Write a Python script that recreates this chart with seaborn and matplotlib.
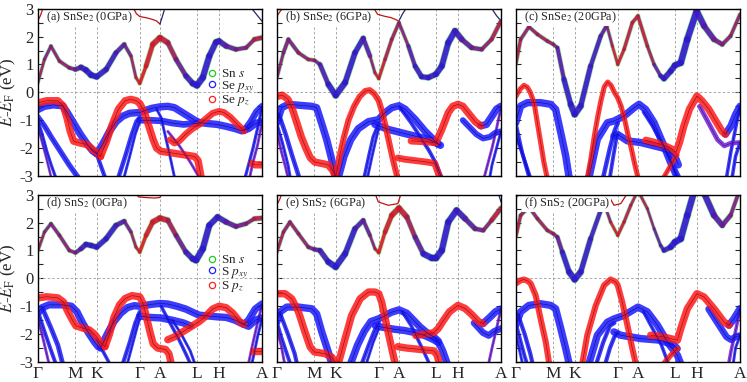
import numpy as np
import pandas as pd
import matplotlib
matplotlib.use("Agg")
import matplotlib.pyplot as plt
import seaborn as sns
from matplotlib.collections import LineCollection
from matplotlib.lines import Line2D

# ---------------- k-path ----------------
KPATH_LABELS = ["Γ", "M", "K", "Γ", "A", "L", "H", "A"]
KPATH_POS = [0, 16.7, 26.3, 45.5, 54.5, 71.1, 80.8, 100]

PANEL_TITLES = ["(a) SnSe$_2$ (0GPa)", "(b) SnSe$_2$ (6GPa)", "(c) SnSe$_2$ (20GPa)",
                "(d) SnS$_2$ (0GPa)", "(e) SnS$_2$ (6GPa)", "(f) SnS$_2$ (20GPa)"]
LEGEND_SE = ["Sn $s$", "Se $p_{xy}$", "Se $p_z$"]
LEGEND_S = ["Sn $s$", "S $p_{xy}$", "S $p_z$"]

# ---------------- panel (a) SnSe2 0GPa ----------------
A_CB = [(0,0.32),(3,1.18),(5.9,1.66),(9.7,1.12),(14.1,0.88),(16.8,0.82),(19.3,0.9),(21.5,0.8),(23.8,0.62),(26.3,0.56),(30.5,0.82),(34.9,1.42),(38.6,1.72),(41.6,1.3),(43.8,0.53),(45.5,0.32),(48.3,0.94),(51.3,1.72),(54.5,1.96),(58,1.78),(61.7,1.18),(66.1,0.59),(69.1,0.32),(71,0.25),(73.6,0.53),(76.5,1.3),(79.5,1.8),(80.8,1.84),(84,1.66),(88.4,1.54),(92.9,1.6),(96.6,1.9),(100,1.96)]
A_CB_PXY = [0.1,0.2,0.3,0.2,0.3,0.4,0.6,0.7,0.7,0.7,0.6,0.5,0.4,0.2,0.1,0.0,0.05,0.1,0.1,0.2,0.4,0.6,0.7,0.8,0.8,0.7,0.7,0.7,0.6,0.4,0.4,0.3,0.1]
A_CB_PZ = [0.2,0.2,0.2,0.3,0.3,0.3,0.2,0.1,0.1,0.1,0.1,0.1,0.2,0.2,0.2,0.2,0.4,0.6,0.7,0.6,0.4,0.2,0.1,0.1,0.1,0.1,0.1,0.1,0.2,0.3,0.3,0.4,0.6]
A_UP1 = [(0,2.56),(1.2,2.75),(2.5,3.05)]
A_UP2 = [(42.5,3.05),(44,2.82),(45.5,2.72),(48.7,2.67),(51,2.62),(53,2.56),(54.5,2.45)]
A_UP3 = [(54.5,2.45),(55.5,2.7),(56.8,3.05)]
A_UP4 = [(95,3.05),(97.5,2.8),(100,2.55)]
A_R1 = [(0,-0.38),(4,-0.3),(9,-0.3),(11.5,-0.5),(13,-0.9),(14.5,-1.4),(16,-1.75),(19,-1.82),(22,-1.87),(24.5,-2.05),(26.3,-2.15),(28,-2.3)]
A_R2 = [(28,-2.3),(30.5,-1.8),(33,-1.2),(36,-0.6),(39,-0.3),(41.5,-0.25),(44,-0.3),(45.5,-0.4),(47.5,-0.7),(49.5,-1.2),(51.5,-1.7),(53,-2.0),(55,-2.12),(58,-2.15),(62,-2.2),(66,-2.25),(70,-2.3),(71.5,-2.45),(73,-3.1)]
A_R3 = [(59,-1.7),(61,-1.82),(63,-1.75),(66,-1.5),(69,-1.3),(72,-1.15),(75,-0.95),(78,-0.75),(80.8,-0.68),(83,-0.72),(86,-0.9),(89,-1.15),(92,-1.38)]
A_R4 = [(95.5,-2.55),(97,-2.6),(100,-2.6)]
A_B1 = [(0,-0.62),(3,-0.5),(7,-0.45),(11,-0.48),(13,-0.7),(16,-1.1),(19,-1.5),(22,-1.85),(24.5,-2.1),(26.3,-2.2)]
A_B2 = [(26.3,-2.2),(29,-1.85),(32,-1.4),(35,-1.05),(38,-0.85),(41,-0.75),(45.5,-0.72),(48,-0.65),(51,-0.57),(54.5,-0.52),(58,-0.5),(61,-0.55),(64,-0.7),(67,-0.85),(70,-1.0),(72,-1.08),(76,-1.12),(80,-1.15),(84,-1.22),(88,-1.3),(91,-1.38),(94,-1.3),(97,-1.12),(100,-1.05)]
A_B3 = [(45.5,-1.0),(50,-1.0),(55,-1.02),(60,-1.1),(65,-1.15),(70,-1.12),(72,-1.1)]
A_B4 = [(92,-1.38),(95,-1.05),(97.5,-0.7),(100,-0.5)]
A_S1 = [(0,-0.87),(3,-1.2),(6,-1.6),(10,-2.1),(14,-2.6),(18,-3.05)]
A_S2 = [(0,-1.0),(2,-1.5),(4,-2.1),(6,-2.6),(8,-3.05)]
A_S3 = [(0,-1.2),(2,-1.8),(4,-2.4),(6,-3.05)]
A_S4 = [(36,-3.05),(39,-2.3),(42,-1.5),(44,-1.05),(45.5,-0.9)]
A_S5 = [(38.5,-3.05),(41,-2.3),(43.5,-1.5),(45.5,-1.05)]
A_S6 = [(53,-0.6),(55,-0.9),(57,-1.6),(59,-2.3),(61,-3.05)]
A_S7 = [(58,-1.4),(63,-1.9),(68,-2.5),(72,-3.05)]
A_S8 = [(100,-0.55),(98,-1.3),(96,-2.0),(94,-2.6),(92.5,-3.05)]
A_S9 = [(100,-1.1),(98,-1.9),(96,-2.5),(94.5,-3.05)]
A_S10 = [(26.3,-2.2),(28,-2.6),(30,-3.05)]

# ---------------- panel (b) SnSe2 6GPa ----------------
B_CB = [(0,0.49),(3,1.42),(5.2,1.9),(9.7,1.42),(14.1,1.18),(16.8,1.15),(19.3,1.0),(23,0.29),(26.3,-0.11),(30.5,0.35),(34.9,1.42),(38.6,1.94),(41.6,1.3),(43.8,0.7),(45.5,0.49),(48.3,1.18),(51.3,1.9),(54.5,2.5),(58.7,1.66),(61.7,0.94),(64.6,0.56),(67.6,0.53),(71,0.65),(73.6,0.94),(76.5,1.78),(79.5,2.2),(82.5,1.9),(86.9,1.6),(91.4,1.54),(95.8,1.9),(100,2.56)]
B_CB_PXY = [0.2,0.3,0.4,0.3,0.2,0.2,0.4,0.6,0.8,0.7,0.6,0.6,0.3,0.1,0.0,0.1,0.2,0.2,0.3,0.5,0.6,0.6,0.7,0.7,0.7,0.8,0.6,0.5,0.4,0.3,0.1]
B_CB_PZ = [0.2,0.3,0.3,0.3,0.3,0.3,0.2,0.1,0.1,0.1,0.1,0.1,0.2,0.2,0.2,0.3,0.3,0.3,0.2,0.1,0.1,0.1,0.1,0.1,0.1,0.1,0.2,0.3,0.3,0.4,0.4]
B_UP1 = [(0,2.72),(1.5,2.9),(3,3.05)]
B_UP2 = [(43,3.05),(45,2.8),(48,2.73),(51,2.68),(54.5,2.56)]
B_UP3 = [(54.5,2.56),(56,2.8),(58,3.05)]
B_UP4 = [(95.5,3.05),(98,2.75),(100,2.56)]
B_R1 = [(0,-0.15),(2.5,-0.1),(5,-0.25),(7,-0.6),(9,-1.1),(11,-1.6),(13,-2.0),(15,-2.35),(17,-2.5),(20,-2.55),(23,-2.6),(25,-2.8),(26.3,-3.05)]
B_R2 = [(26.3,-3.05),(28,-2.3),(30,-1.6),(32,-1.0),(34.5,-0.5),(37,-0.15),(39.5,0.05),(41.5,0.08),(43.5,-0.05),(45.5,-0.3),(47,-0.7),(48.5,-1.2),(50,-1.75),(51.5,-2.3),(53,-2.8),(54,-3.1)]
B_R3 = [(60,-1.74),(65,-1.76),(71,-1.8),(73.6,-1.33),(76.5,-0.73),(78.5,-0.5),(80.8,-0.43),(83,-0.5),(86,-0.8),(88.5,-1.05),(91,-1.2)]
B_R4 = [(54,-2.35),(57,-2.4),(62,-2.45),(67,-2.5),(70.5,-2.55),(72,-2.9),(73,-3.1)]
B_B1 = [(0,-1.09),(2.2,-0.55),(5.2,-0.43),(11.1,-0.47),(15.6,-0.5),(17.8,-0.55),(20,-1.1),(22.3,-1.7),(24.5,-2.4),(26.3,-3.05)]
B_B2 = [(27.5,-3.05),(30,-2.3),(33,-1.7),(36.4,-1.3),(40.9,-1.05),(45.3,-0.98),(48.3,-0.73),(51.3,-0.55),(54.5,-0.48),(57.2,-0.6),(61.7,-0.97),(66.1,-1.39),(70.6,-1.75),(72,-1.85)]
B_B3 = [(43.8,-1.15),(49.8,-1.33),(55.7,-1.45),(61.7,-1.57),(67.6,-1.68),(70.6,-1.8),(73,-1.9)]
B_B4 = [(91,-1.2),(93.5,-1.15),(96,-0.85),(98,-0.6),(100,-0.5)]
B_B5 = [(83,-1.0),(86,-1.25),(89,-1.5),(92,-1.65),(95,-1.6),(97.5,-1.45),(100,-1.4)]
B_S1 = [(0,-1.1),(2.5,-1.8),(5,-2.6),(6,-3.05)]
B_S2 = [(0,-1.4),(2,-2.1),(4,-2.7),(5,-3.05)]
B_S3 = [(1,-0.8),(4,-1.5),(7,-2.3),(10,-3.05)]
B_S4 = [(39,-3.05),(41,-2.3),(43,-1.6),(45.5,-1.1)]
B_S5 = [(40.5,-3.05),(42.5,-2.3),(44.5,-1.6),(45.5,-1.3)]
B_S6 = [(55,-0.55),(60,-1.1),(64,-1.6),(68,-2.1),(71,-2.55),(73.5,-3.05)]
B_S7 = [(100,-0.55),(98,-1.3),(96,-2.0),(94,-2.6),(92.5,-3.05)]
B_S8 = [(100,-1.4),(98,-2.0),(96,-2.6),(95,-3.05)]

# ---------------- panel (c) SnSe2 20GPa ----------------
C_CB = [(0,1.0),(2.2,1.9),(5.9,2.35),(9.7,2.08),(14.1,1.84),(16.8,1.72),(18.6,1.6),(21.5,0.47),(24.5,-0.43),(26.3,-0.79),(29,-0.49),(33.4,0.94),(37.9,2.02),(40.6,2.4),(43.1,1.66),(45.5,1.0),(48.3,1.54),(52,2.5),(54.5,2.74),(58.7,1.66),(61.7,1.0),(64.6,0.59),(66.1,0.49),(69.1,0.76),(71,0.97),(73.6,1.06),(76.5,1.9),(80.7,2.92),(84,2.38),(88.4,1.9),(92.1,1.72),(95.8,2.02),(100,2.8)]
C_CB_PXY = [0.1,0.2,0.3,0.2,0.2,0.2,0.3,0.5,0.7,0.8,0.7,0.5,0.4,0.3,0.1,0.0,0.1,0.1,0.1,0.1,0.2,0.4,0.6,0.7,0.7,0.8,0.8,0.8,0.7,0.6,0.4,0.3,0.2]
C_CB_PZ = [0.3,0.3,0.3,0.3,0.3,0.3,0.2,0.1,0.1,0.1,0.1,0.1,0.1,0.2,0.2,0.2,0.3,0.3,0.3,0.3,0.2,0.1,0.1,0.1,0.1,0.1,0.1,0.1,0.2,0.3,0.4,0.3,0.3]
C_R1 = [(0,-0.15),(2,0.12),(3.7,0.25),(5.2,0.18),(6.5,0.0),(8.2,-0.37),(10.4,-1.45),(12.6,-2.52),(14,-3.05)]
C_R2 = [(32,-3.05),(33.5,-2.4),(35,-1.6),(36.5,-0.9),(38,-0.3),(39.5,0.2),(41,0.37),(42.5,0.25),(44,0.0),(45.5,-0.2),(47,-0.5),(48.5,-0.95),(50,-1.5),(51.5,-2.0),(53,-2.55),(54.5,-3.05)]
C_R3 = [(58,-1.72),(62,-1.8),(66,-1.9),(70,-2.05),(71.5,-2.15),(73,-1.8),(75,-1.2),(77.5,-0.6),(80.8,-0.13),(83,-0.3),(86,-0.6),(89,-1.0),(92,-1.4),(93.5,-1.5)]
C_R4 = [(66,-3.05),(68.5,-2.7),(71,-2.35),(72,-2.25)]
C_B1 = [(0,-1.09),(2.2,-0.49),(5.2,-0.37),(11.1,-0.37),(15.6,-0.43),(17.8,-0.61),(20.1,-1.45),(22.3,-2.28),(23.8,-3.05)]
C_B2 = [(32.7,-3.05),(36.4,-1.68),(40.9,-1.09),(43.8,-1.03),(48.3,-0.85),(52.8,-0.55),(55,-0.43),(57.9,-0.61),(61.7,-1.09),(66.1,-1.92),(69.1,-2.52),(72.1,-3.05)]
C_B3 = [(43.8,-1.57),(45.3,-1.5),(49.8,-1.74),(55.7,-1.8),(61.7,-1.92),(67.6,-2.04),(71,-2.3),(72.5,-2.6)]
C_B4 = [(93.5,-1.5),(96,-1.2),(98,-0.8),(100,-0.5)]
C_B5 = [(82,-0.5),(86,-1.1),(90,-1.7),(93,-1.92),(96,-1.82),(100,-1.8)]
C_S1 = [(0,-1.1),(3,-2.2),(6,-3.05)]
C_S2 = [(0,-1.55),(3,-2.2),(6.5,-3.05)]
C_S3 = [(42,-3.05),(43.5,-2.3),(45,-1.6),(45.5,-1.5)]
C_S4 = [(39,-3.05),(42,-2.0),(44,-1.4),(45.5,-1.1)]
C_S5 = [(57,-0.7),(61,-1.2),(65,-1.8),(69,-2.4),(72,-3.05)]
C_S6 = [(100,-0.5),(98,-1.3),(96,-2.1),(94,-3.05)]
C_S7 = [(100,-1.8),(98,-2.3),(96.5,-3.05)]

# ---------------- panel (d) SnS2 0GPa ----------------
D_CB = [(0,0.97),(3,1.66),(5.9,1.96),(9.7,1.54),(14.1,1.0),(16.8,0.92),(19.3,1.06),(21.5,1.22),(23.8,1.18),(26.3,1.12),(30.5,1.42),(34.9,1.9),(38.6,2.05),(41.6,1.66),(43.8,1.12),(45.5,0.94),(48.3,1.54),(51.3,2.02),(54.5,2.16),(58,2.08),(61.7,1.54),(66.1,0.94),(69.1,0.7),(70.6,0.65),(73.6,1.06),(76.5,1.9),(80.2,2.2),(84,2.02),(88.4,1.86),(92.9,1.96),(96.6,2.14),(100,2.16)]
D_CB_PXY = [0.1,0.2,0.3,0.3,0.3,0.3,0.5,0.6,0.6,0.6,0.6,0.6,0.4,0.2,0.1,0.0,0.05,0.1,0.1,0.2,0.4,0.6,0.7,0.8,0.8,0.7,0.7,0.6,0.5,0.4,0.3,0.1]
D_CB_PZ = [0.2,0.2,0.2,0.3,0.3,0.3,0.2,0.1,0.1,0.1,0.1,0.1,0.2,0.2,0.2,0.2,0.4,0.6,0.7,0.6,0.4,0.2,0.1,0.1,0.1,0.1,0.1,0.2,0.3,0.3,0.4,0.6]
D_UP1 = [(43.5,3.05),(45,2.92),(48,2.9),(52,2.88),(54.5,2.9),(55.5,3.05)]
D_R1 = [(0,-0.7),(4,-0.66),(9,-0.7),(11.5,-0.85),(13.5,-1.2),(15.5,-1.5),(17,-1.7),(20,-1.78),(23,-1.85),(25,-1.98),(26.3,-2.1),(28,-2.3),(30,-2.45)]
D_R2 = [(30,-2.45),(32,-2.0),(34,-1.4),(36.5,-0.95),(39,-0.72),(42,-0.62),(45.5,-0.66),(47,-0.9),(48.5,-1.4),(50,-1.9),(51.5,-2.35),(53.5,-2.5),(57,-2.55),(58.5,-2.7),(59.5,-3.05)]
D_R3 = [(58,-2.2),(61,-2.1),(65,-1.9),(69,-1.7),(72,-1.55),(75,-1.35),(78,-1.1),(80.8,-1.0),(84,-1.05),(87,-1.25),(90,-1.55),(92,-1.65)]
D_R4 = [(96,-2.62),(100,-2.62)]
D_B1 = [(0,-1.25),(2,-1.05),(5,-0.95),(11,-0.95),(15,-1.0),(17.5,-1.2),(20,-1.6),(23,-2.0),(25.5,-2.3),(27,-2.45)]
D_B2 = [(28,-2.5),(31,-2.0),(34,-1.55),(37,-1.25),(40,-1.05),(43,-0.98),(45.5,-1.0),(48,-0.97),(51,-0.93),(54.5,-0.9),(58,-0.92),(62,-1.0),(66,-1.1),(70,-1.25),(72,-1.32),(76,-1.35),(80,-1.38),(84,-1.4),(88,-1.5),(91,-1.62),(94,-1.72),(97,-1.5),(100,-1.42)]
D_B3 = [(45.5,-1.35),(50,-1.4),(55,-1.42),(60,-1.5),(65,-1.6),(68,-1.7)]
D_B4 = [(92,-1.65),(94,-1.5),(97,-1.1),(100,-0.92)]
D_S1 = [(0,-1.15),(3,-1.9),(6,-2.6),(8,-3.05)]
D_S2 = [(0,-1.4),(2.5,-2.2),(5,-3.05)]
D_S3 = [(2.2,-1.09),(6,-1.8),(9,-2.4),(11.1,-3.05)]
D_S4 = [(38,-3.05),(41,-2.3),(43.5,-1.6),(45.5,-1.2)]
D_S5 = [(40,-3.05),(42.5,-2.3),(44.5,-1.7),(45.5,-1.45)]
D_S6 = [(55,-1.0),(59,-1.6),(63,-2.2),(66,-2.7),(68,-3.05)]
D_S7 = [(60,-1.5),(64,-2.0),(68,-2.6),(70,-3.05)]
D_S8 = [(100,-0.95),(98,-1.6),(96,-2.3),(94,-3.05)]
D_S9 = [(100,-1.45),(98,-2.1),(96.5,-2.7),(95.5,-3.05)]
D_S10 = [(26.3,-2.2),(29,-2.6),(32,-3.05)]

# ---------------- panel (e) SnS2 6GPa ----------------
E_CB = [(0,0.92),(3,1.66),(5.9,2.02),(9.7,1.6),(14.1,1.12),(16.8,1.04),(19.3,1.0),(23,0.59),(26.3,0.41),(30.5,0.88),(34.9,1.78),(38.6,2.08),(41.6,1.54),(43.8,1.06),(45.5,0.92),(48.3,1.66),(51.3,2.26),(54.5,2.52),(58,2.2),(61.7,1.48),(65.4,0.88),(69.1,0.73),(71,0.73),(73.6,1.0),(76.5,2.02),(80.2,2.44),(84,2.14),(88.4,1.78),(92.1,1.72),(95.8,2.08),(100,2.52)]
E_CB_PXY = [0.1,0.2,0.3,0.2,0.3,0.4,0.5,0.7,0.8,0.7,0.6,0.4,0.3,0.1,0.0,0.05,0.1,0.1,0.2,0.4,0.7,0.8,0.8,0.8,0.7,0.8,0.6,0.5,0.4,0.3,0.1]
E_CB_PZ = [0.2,0.3,0.3,0.3,0.3,0.3,0.2,0.1,0.1,0.1,0.1,0.2,0.2,0.2,0.2,0.4,0.6,0.7,0.6,0.4,0.1,0.1,0.1,0.1,0.1,0.1,0.2,0.3,0.3,0.4,0.6]
E_UP1 = [(0,2.62),(1.5,2.86),(2.2,3.05)]
E_UP2 = [(43.8,3.05),(45.3,2.74),(49.8,2.62),(54,2.68),(55.5,3.05)]
E_UP3 = [(98.8,3.05),(100,2.74)]
E_R1 = [(0,-0.55),(3.7,-0.55),(6.7,-0.73),(9.7,-1.2),(12.6,-1.92),(14.9,-2.46),(16.8,-2.64),(21.5,-2.7),(24.5,-2.82),(26.3,-3.05)]
E_R2 = [(27.5,-3.05),(30.5,-2.16),(33.4,-1.33),(37.2,-0.73),(40.9,-0.49),(43.8,-0.49),(45.5,-0.55),(46.8,-0.85),(49,-1.68),(51.3,-2.52),(52.8,-3.05)]
E_R3 = [(54,-2.45),(58,-2.5),(64,-2.55),(70,-2.6),(71.5,-2.75),(72.5,-3.05)]
E_R4 = [(62,-2.05),(66,-2.0),(70,-1.95),(72,-1.8),(74,-1.55),(77,-1.2),(80.8,-0.97),(84,-1.08),(87,-1.3),(90,-1.55),(92,-1.62)]
E_B1 = [(0,-1.57),(1.5,-1.2),(4.5,-1.03),(9.7,-1.03),(15.6,-1.09),(17.8,-1.27),(20.1,-1.92),(23,-2.64),(24.5,-3.05)]
E_B2 = [(33,-3.05),(36,-2.4),(39,-1.9),(42,-1.55),(45.5,-1.45),(48,-1.35),(51,-1.22),(54.5,-1.13),(58,-1.25),(61,-1.5),(64,-1.75),(67,-1.95),(70,-2.1),(72,-2.25),(74,-2.6),(76,-3.05)]
E_B3 = [(44,-1.7),(47,-1.75),(52,-1.82),(57,-1.87),(62,-1.95),(66,-2.05),(70,-2.2),(72,-2.3)]
E_B4 = [(92,-1.62),(95,-1.4),(97.5,-1.2),(100,-1.1)]
E_B5 = [(88,-1.6),(92,-1.95),(94.5,-2.05),(97,-1.9),(100,-1.8)]
E_S1 = [(0,-1.55),(2,-2.1),(4.5,-2.7),(6,-3.05)]
E_S2 = [(0,-1.8),(2,-2.4),(3.5,-3.05)]
E_S3 = [(1.5,-1.25),(5,-2.0),(8,-2.7),(9,-3.05)]
E_S4 = [(38,-3.05),(41,-2.4),(43.5,-1.9),(45.5,-1.6)]
E_S5 = [(40,-3.05),(43,-2.3),(45.5,-1.8)]
E_S6 = [(56,-1.2),(60,-1.7),(63,-2.2),(66,-2.7),(68,-3.05)]
E_S7 = [(100,-1.1),(98,-1.8),(96,-2.5),(94.5,-3.05)]

# ---------------- panel (f) SnS2 20GPa ----------------
F_CB = [(0,1.48),(2.2,2.26),(5.9,2.56),(9.7,2.14),(14.1,1.72),(16.8,1.6),(18.6,1.48),(20.8,0.94),(23.8,0.23),(26.3,-0.04),(29,0.23),(33.4,1.42),(37.9,2.44),(39.7,2.62),(42.3,2.02),(45.5,1.54),(48.3,2.02),(51.3,2.62),(54.5,3.15),(58.7,2.5),(61.7,1.78),(64.6,1.18),(66.1,1.0),(69.1,1.12),(71,1.3),(73.6,1.42),(76.5,2.26),(79.5,3.1),(80.8,3.3),(84,3.05),(88.4,2.26),(92.1,1.9),(95.8,2.26),(100,3.2)]
F_CB_PXY = [0.1,0.2,0.3,0.2,0.2,0.2,0.3,0.5,0.7,0.8,0.7,0.5,0.4,0.3,0.1,0.0,0.1,0.1,0.1,0.1,0.2,0.2,0.4,0.7,0.8,0.8,0.8,0.8,0.8,0.8,0.7,0.6,0.4,0.3]
F_CB_PZ = [0.3,0.3,0.3,0.3,0.3,0.3,0.3,0.1,0.1,0.1,0.1,0.1,0.1,0.2,0.2,0.2,0.3,0.2,0.2,0.2,0.1,0.1,0.1,0.1,0.1,0.1,0.1,0.1,0.1,0.1,0.2,0.3,0.3,0.3]
F_UP1 = [(0,2.86),(1.5,3.05)]
F_UP2 = [(40.9,3.05),(43.8,2.62),(46.8,2.68),(49.8,3.05)]
F_R1 = [(0,-0.19),(2,-0.08),(3.7,-0.04),(5.5,-0.1),(6.7,-0.19),(8.9,-0.61),(11.1,-1.45),(13.4,-2.28),(14.9,-3.05)]
F_R2 = [(29.7,-3.05),(31.9,-2.04),(35.7,-0.97),(39.4,-0.25),(42.3,-0.04),(44.6,-0.13),(45.5,-0.25),(47.5,-0.85),(49.8,-1.68),(52,-2.52),(53.5,-3.05)]
F_R3 = [(60.2,-2.04),(66,-2.1),(70,-2.18),(72.1,-2.22),(73.6,-1.8),(76.5,-1.09),(80.8,-0.55),(84,-0.67),(88.4,-1.09),(92.9,-1.57),(95.1,-1.68)]
F_R4 = [(66.1,-3.05),(69.1,-2.76),(72.1,-2.52)]
F_B1 = [(0,-1.68),(2.2,-1.2),(5.9,-0.97),(11.1,-0.91),(15.6,-0.97),(17.8,-1.09),(20.1,-1.8),(22.3,-2.52),(23.8,-3.05)]
F_B2 = [(32.7,-3.05),(36.4,-2.04),(40.9,-1.57),(44,-1.45),(48.3,-1.33),(54.5,-1.03),(58.7,-1.2),(63.2,-1.68),(67.6,-2.28),(72.1,-2.76),(73.5,-3.05)]
F_B3 = [(43.8,-1.92),(46.8,-2.04),(55.7,-2.16),(64.6,-2.22),(70.6,-2.4),(72,-2.52)]
F_B4 = [(95.1,-1.68),(97.3,-1.45),(100,-1.09)]
F_B5 = [(86,-1.1),(90,-1.6),(94,-2.1),(96,-2.2),(98,-2.1),(100,-2.05)]
F_S1 = [(0,-1.6),(2,-2.2),(4,-2.8),(5,-3.05)]
F_S2 = [(0,-2.0),(1.5,-2.5),(3,-3.05)]
F_S3 = [(1,-1.3),(4,-2.0),(6.5,-2.7),(7.5,-3.05)]
F_S4 = [(40,-3.05),(42,-2.5),(44,-2.1),(45.5,-1.95)]
F_S5 = [(36,-3.05),(39,-2.3),(42,-1.7),(44,-1.6)]
F_S6 = [(57,-1.2),(61,-1.8),(65,-2.4),(68,-3.05)]
F_S7 = [(100,-1.1),(98,-1.9),(96,-2.6),(95,-3.05)]
F_S8 = [(100,-2.05),(98,-2.5),(97,-3.05)]

# ---------------- styling ----------------
RED = np.array([1.0, 0.1, 0.1])
BLUE = np.array([0.1, 0.1, 1.0])
GREEN = np.array([0.1, 0.85, 0.1])
NAVY = np.array([0.15, 0.15, 0.45])
DARKRED = np.array([0.75, 0.08, 0.08])
ORB = {"pz": RED, "pxy": BLUE, "mix": np.array([0.45, 0.12, 0.85]), "navy": NAVY, "dred": DARKRED}

PANELS = [
    dict(cb=(A_CB, A_CB_PXY, A_CB_PZ),
         up=[(A_UP1, "dred"), (A_UP2, "dred"), (A_UP3, "navy"), (A_UP4, "navy")],
         bands=[(A_S3, "mix", 0.25), (A_S2, "pxy", 0.35), (A_S5, "pxy", 0.3), (A_S6, "pxy", 0.3),
                (A_S7, "mix", 0.3), (A_S8, "pxy", 0.35), (A_S9, "mix", 0.3), (A_S10, "pxy", 0.5),
                (A_S1, "pxy", 0.7), (A_S4, "pxy", 0.55),
                (A_B3, "pxy", 0.9), (A_B1, "pxy", 1.0), (A_B2, "pxy", 1.0), (A_B4, "pxy", 0.9),
                (A_R4, "pz", 1.0), (A_R3, "pz", 0.9), (A_R1, "pz", 1.0), (A_R2, "pz", 1.0)]),
    dict(cb=(B_CB, B_CB_PXY, B_CB_PZ),
         up=[(B_UP1, "dred"), (B_UP2, "dred"), (B_UP3, "navy"), (B_UP4, "navy")],
         bands=[(B_S1, "pxy", 0.35), (B_S2, "mix", 0.3), (B_S3, "pxy", 0.55), (B_S4, "pxy", 0.4),
                (B_S5, "pxy", 0.3), (B_S6, "pxy", 0.45), (B_S7, "mix", 0.3), (B_S8, "pxy", 0.3),
                (B_B3, "pxy", 1.0), (B_B1, "pxy", 1.0), (B_B2, "pxy", 1.0), (B_B5, "pxy", 0.8),
                (B_B4, "pxy", 1.0),
                (B_R4, "pz", 0.9), (B_R3, "pz", 1.0), (B_R1, "pz", 1.0), (B_R2, "pz", 0.8)]),
    dict(cb=(C_CB, C_CB_PXY, C_CB_PZ),
         up=[],
         bands=[(C_S1, "pxy", 0.45), (C_S2, "pxy", 0.4), (C_S3, "pxy", 0.45), (C_S4, "pxy", 0.55),
                (C_S5, "pxy", 0.45), (C_S6, "pxy", 0.4), (C_S7, "pxy", 0.4),
                (C_B3, "pxy", 1.0), (C_B1, "pxy", 1.0), (C_B2, "pxy", 1.0), (C_B5, "mix", 0.6),
                (C_B4, "pxy", 1.0),
                (C_R4, "pz", 0.6), (C_R3, "pz", 1.0), (C_R1, "pz", 0.65), (C_R2, "pz", 0.65)]),
    dict(cb=(D_CB, D_CB_PXY, D_CB_PZ),
         up=[(D_UP1, "dred")],
         bands=[(D_S2, "mix", 0.3), (D_S1, "pxy", 0.45), (D_S3, "pxy", 0.6), (D_S4, "pxy", 0.5),
                (D_S5, "pxy", 0.3), (D_S6, "pxy", 0.4), (D_S7, "pxy", 0.3), (D_S8, "mix", 0.3),
                (D_S9, "pxy", 0.3), (D_S10, "pxy", 0.4),
                (D_B3, "pxy", 1.0), (D_B1, "pxy", 1.0), (D_B2, "pxy", 1.0), (D_B4, "pxy", 1.0),
                (D_R4, "pz", 1.0), (D_R3, "pz", 1.0), (D_R1, "pz", 1.0), (D_R2, "pz", 1.0)]),
    dict(cb=(E_CB, E_CB_PXY, E_CB_PZ),
         up=[(E_UP1, "dred"), (E_UP2, "dred"), (E_UP3, "navy")],
         bands=[(E_S1, "pxy", 0.45), (E_S2, "mix", 0.3), (E_S3, "pxy", 0.5), (E_S4, "pxy", 0.5),
                (E_S5, "pxy", 0.3), (E_S6, "pxy", 0.4), (E_S7, "mix", 0.3),
                (E_B3, "pxy", 1.0), (E_B1, "pxy", 1.0), (E_B2, "pxy", 1.0), (E_B5, "pxy", 0.9),
                (E_B4, "pxy", 1.0),
                (E_R3, "pz", 1.0), (E_R4, "pz", 1.0), (E_R1, "pz", 1.0), (E_R2, "pz", 1.0)]),
    dict(cb=(F_CB, F_CB_PXY, F_CB_PZ),
         up=[(F_UP1, "dred"), (F_UP2, "dred")],
         bands=[(F_S1, "pxy", 0.45), (F_S2, "pxy", 0.3), (F_S3, "pxy", 0.5), (F_S4, "pxy", 0.5),
                (F_S5, "pxy", 0.5), (F_S6, "pxy", 0.4), (F_S7, "mix", 0.4), (F_S8, "pxy", 0.3),
                (F_B3, "pxy", 1.0), (F_B1, "pxy", 1.0), (F_B2, "pxy", 1.0), (F_B5, "pxy", 0.9),
                (F_B4, "pxy", 1.0),
                (F_R4, "pz", 0.7), (F_R3, "pz", 1.0), (F_R1, "pz", 0.8), (F_R2, "pz", 0.8)]),
]

sns.set_theme(style="ticks")
plt.rcParams["font.family"] = ["Liberation Serif", "DejaVu Serif"]
plt.rcParams["mathtext.fontset"] = "stix"

fig = plt.figure(figsize=(7.47, 3.82), dpi=100)
W = 224.3 / 747
H = 167.3 / 382
lefts = [37.7 / 747, 276.7 / 747, 515.7 / 747]
bottoms = [1 - 176 / 382, 1 - 362 / 382]


def draw_fat(ax, pts, orb, w, z=3):
    df = pd.DataFrame(pts, columns=["k", "E"])
    lw = 0.7 + 4.6 * w
    sns.lineplot(data=df, x="k", y="E", sort=False, estimator=None, color=ORB[orb],
                 lw=lw, alpha=0.85, solid_capstyle="round", solid_joinstyle="round",
                 ax=ax, zorder=z, legend=False)
    sns.lineplot(data=df, x="k", y="E", sort=False, estimator=None,
                 color=ORB[orb] * 0.6, lw=0.45, ax=ax, zorder=z + 0.1, legend=False)


def draw_cb(ax, pts, pxy, pz):
    arr = np.array(pts, dtype=float)
    pxy = np.array(pxy, dtype=float)
    pz = np.array(pz, dtype=float)
    segs, cols, lws = [], [], []
    for i in range(len(arr) - 1):
        a = 0.5 * (pxy[i] + pxy[i + 1])
        b = 0.5 * (pz[i] + pz[i + 1])
        c = (a * BLUE + 1.15 * b * RED) / (a + 1.15 * b + 1e-9)
        segs.append(arr[i:i + 2])
        cols.append(np.clip(c * 0.92, 0, 1))
        lws.append(1.1 + 4.3 * max(a, b))
    ax.add_collection(LineCollection(segs, colors="#33cc33", linewidths=[l + 1.0 for l in lws],
                                     alpha=0.45, capstyle="round", zorder=4))
    ax.add_collection(LineCollection(segs, colors=cols, linewidths=lws, alpha=0.9,
                                     capstyle="round", joinstyle="round", zorder=5))


for idx, spec in enumerate(PANELS):
    r, c = divmod(idx, 3)
    ax = fig.add_axes([lefts[c], bottoms[r], W, H])
    ax.set_xlim(0, 100)
    ax.set_ylim(-3, 3)
    for xv in KPATH_POS[1:-1]:
        ax.axvline(xv, color="#9a9a9a", lw=0.6, dashes=(3, 2.5), zorder=1)
    ax.axhline(0, color="#9a9a9a", lw=0.6, dashes=(3, 2.5), zorder=1)

    for band, orb, w in spec["bands"]:
        draw_fat(ax, band, orb, w)
    for band, orb in spec["up"]:
        df = pd.DataFrame(band, columns=["k", "E"])
        sns.lineplot(data=df, x="k", y="E", sort=False, estimator=None, color=ORB[orb],
                     lw=0.9, ax=ax, zorder=4, legend=False)
    draw_cb(ax, *spec["cb"])

    ax.set_xticks(KPATH_POS)
    ax.set_yticks([-3, -2, -1, 0, 1, 2, 3])
    ax.set_yticks(np.arange(-3, 3.01, 0.5), minor=True)
    ax.tick_params(axis="y", which="both", direction="in", left=True, right=True,
                   length=3.5, width=0.8, labelsize=12, pad=3)
    ax.tick_params(axis="x", which="both", length=0, labelsize=12.5, pad=3)
    if r == 1:
        ax.set_xticklabels(KPATH_LABELS)
    else:
        ax.set_xticklabels([])
    if c == 0:
        ax.set_yticklabels(["-3", "-2", "-1", "0", "1", "2", "3"])
        ax.set_ylabel(r"$E$-$E_{\mathrm{F}}$ (eV)", fontsize=12)
        ax.yaxis.set_label_coords(-0.088, 0.5)
    else:
        ax.set_yticklabels([])
        ax.set_ylabel("")
    ax.set_xlabel("")
    for sp in ax.spines.values():
        sp.set_linewidth(1.0)
        sp.set_color("black")
        sp.set_zorder(10)

    ax.text(0.035, 0.95, PANEL_TITLES[idx], transform=ax.transAxes, fontsize=8.8,
            ha="left", va="center", zorder=8,
            bbox=dict(facecolor="white", edgecolor="none", pad=0.8))

    if c == 0:
        labels = LEGEND_SE if r == 0 else LEGEND_S
        handles = [Line2D([], [], ls="", marker="o", ms=4.5, mfc="none", mec=col, mew=0.9)
                   for col in ["#22cc22", "#2222ff", "#ff2222"]]
        leg = ax.legend(handles, labels, loc="upper left", bbox_to_anchor=(0.755, 0.645),
                        frameon=False, fontsize=9.5, handlelength=0.7, handletextpad=0.35,
                        labelspacing=-0.1, borderpad=0.0, borderaxespad=0)
        leg.set_zorder(9)

fig.savefig("out.png", dpi=100)
